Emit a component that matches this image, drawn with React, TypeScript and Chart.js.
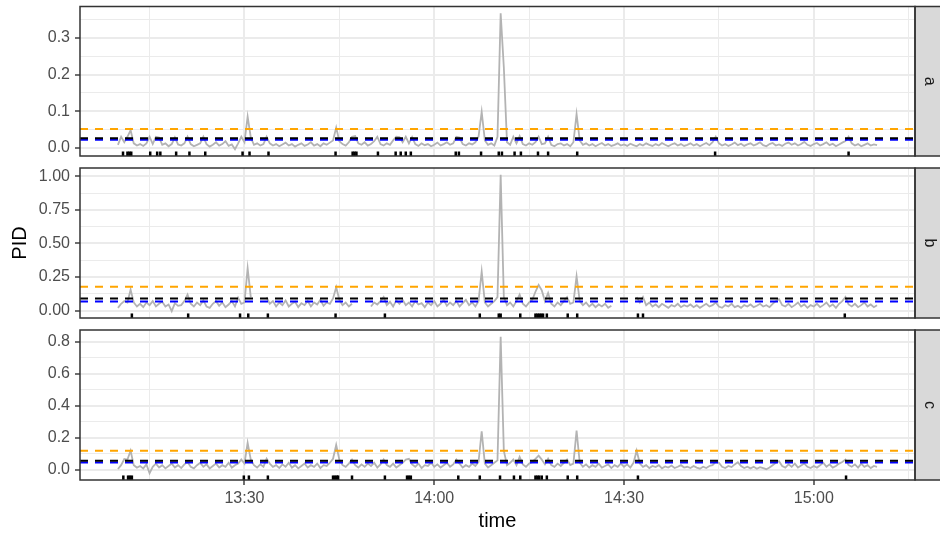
import React, { useEffect, useRef } from "react";
import { Chart, registerables } from "chart.js";

Chart.register(...registerables);

const FONT = '"Liberation Sans", Arial, Helvetica, sans-serif';

// time axis: minutes after 13:00
const SERIES_START = 10; // first sample 13:10
const SERIES_STEP = 0.5; // 30 s sampling
const X_MIN = 4;
const X_MAX = 136;
const X_TICKS = [15, 30, 45, 60, 75, 90, 105, 120, 135];
const X_LABELED = [30, 60, 90, 120];

// PID readings, one row = 10 minutes (20 samples)
const PID_A = [
  0.008, 0.030, 0.015, 0.030, 0.048, 0.012, 0.006, 0.010, 0.005, 0.012, 0.030, 0.010, 0.030, 0.028, 0.008, 0.012, 0.004, 0.010, 0.028, 0.009,
  0.006, 0.012, 0.030, 0.010, 0.004, 0.008, 0.012, 0.030, 0.010, 0.003, 0.008, 0.015, 0.006, 0.010, 0.018, 0.005, 0.009, -0.004, 0.012, 0.030,
  0.015, 0.085, 0.028, 0.008, 0.012, 0.006, 0.010, 0.030, 0.012, 0.006, 0.010, 0.004, 0.009, 0.014, 0.006, 0.010, 0.003, 0.008, 0.012, 0.005,
  0.009, 0.015, 0.006, 0.010, 0.004, 0.012, 0.008, 0.014, 0.020, 0.055, 0.018, 0.010, 0.006, 0.015, 0.030, 0.032, 0.012, 0.008, 0.015, 0.006,
  0.010, 0.018, 0.030, 0.010, 0.006, 0.012, 0.008, 0.020, 0.030, 0.029, 0.015, 0.030, 0.012, 0.029, 0.010, 0.005, 0.012, 0.007, 0.010, 0.004,
  0.008, 0.014, 0.006, 0.010, 0.015, 0.008, 0.012, 0.030, 0.028, 0.010, 0.006, 0.012, 0.009, 0.015, 0.030, 0.098, 0.020, 0.008, 0.012, 0.006,
  0.030, 0.3675, 0.220, 0.015, 0.008, 0.030, 0.012, 0.032, 0.010, 0.006, 0.012, 0.008, 0.015, 0.030, 0.010, 0.012, 0.030, 0.008, 0.004, 0.010,
  0.012, 0.006, 0.010, 0.004, 0.015, 0.092, 0.020, 0.008, 0.012, 0.006, 0.010, 0.004, 0.009, 0.013, 0.006, 0.010, 0.005, 0.008, 0.012, 0.006,
  0.009, 0.005, 0.011, 0.007, 0.004, 0.010, 0.006, 0.012, 0.008, 0.005, 0.010, 0.006, 0.013, 0.008, 0.004, 0.009, 0.012, 0.006, 0.010, 0.005,
  0.008, 0.012, 0.006, 0.010, 0.004, 0.009, 0.013, 0.007, 0.015, 0.030, 0.012, 0.006, 0.010, 0.005, 0.009, 0.014, 0.007, 0.011, 0.005, 0.009,
  0.012, 0.006, 0.010, 0.015, 0.007, 0.004, 0.010, 0.013, 0.006, 0.009, 0.005, 0.011, 0.014, 0.008, 0.012, 0.006, 0.010, 0.016, 0.008, 0.005,
  0.010, 0.013, 0.006, 0.010, 0.015, 0.007, 0.011, 0.004, 0.009, 0.014, 0.018, 0.030, 0.012, 0.006, 0.010, 0.004, 0.008, 0.012, 0.006, 0.009,
  0.007,
];

const PID_B = [
  0.020, 0.050, 0.070, 0.060, 0.155, 0.060, 0.030, 0.050, 0.025, 0.060, 0.040, 0.070, 0.030, 0.050, 0.065, 0.030, 0.045, -0.005, 0.055, 0.035,
  0.040, 0.070, 0.118, 0.050, 0.030, 0.060, 0.040, 0.075, 0.030, 0.020, 0.050, 0.070, 0.035, 0.060, 0.025, 0.045, 0.070, 0.030, 0.095, 0.050,
  0.060, 0.316, 0.100, null, null, null, null, 0.100, 0.050, 0.070, 0.030, 0.060, 0.040, 0.075, 0.030, 0.050, 0.065, 0.025, 0.055, 0.040,
  0.070, 0.030, 0.060, 0.045, 0.080, 0.035, 0.060, 0.050, 0.090, 0.173, 0.080, 0.040, 0.060, 0.030, 0.050, null, null, null, null, null,
  0.030, 0.060, 0.045, 0.070, 0.100, 0.040, 0.065, 0.030, 0.075, 0.050, 0.080, 0.040, 0.060, 0.030, 0.070, 0.045, 0.055, 0.025, 0.060, 0.040,
  0.070, 0.030, 0.050, 0.080, 0.035, 0.060, 0.040, 0.070, 0.030, 0.055, 0.080, 0.040, 0.060, 0.030, 0.070, 0.290, 0.060, 0.030, 0.050, 0.070,
  0.100, 1.012, 0.100, 0.040, 0.060, 0.030, 0.070, 0.118, 0.050, 0.030, 0.060, 0.080, 0.140, 0.190, 0.150, 0.070, 0.130, 0.050, 0.030, 0.060,
  0.040, 0.070, 0.100, 0.050, 0.060, 0.255, 0.070, 0.040, 0.060, 0.030, 0.050, 0.025, 0.045, 0.030, 0.050, 0.020, 0.035, null, null, null,
  null, null, null, null, 0.100, 0.060, 0.100, 0.040, 0.060, 0.030, 0.045, 0.025, 0.050, 0.035, 0.020, 0.040, 0.030, 0.050, 0.025, 0.040,
  0.030, 0.045, 0.025, 0.040, 0.020, 0.035, 0.050, 0.030, 0.040, 0.060, 0.030, 0.020, 0.040, 0.030, 0.050, 0.025, 0.035, 0.020, 0.040, 0.030,
  0.045, 0.025, 0.035, 0.050, 0.030, 0.040, 0.025, 0.050, 0.070, 0.085, 0.040, 0.030, 0.050, 0.025, 0.040, 0.060, 0.030, 0.045, 0.020, 0.040,
  0.030, 0.050, 0.025, 0.040, 0.060, 0.030, 0.045, 0.020, 0.050, 0.070, 0.100, 0.045, 0.030, 0.050, 0.025, 0.040, 0.060, 0.030, 0.045, 0.025,
  0.040,
];

const PID_C = [
  0.006, 0.030, 0.068, 0.065, 0.120, 0.030, 0.015, 0.025, 0.010, 0.035, -0.020, 0.020, 0.040, 0.015, 0.030, 0.010, 0.025, 0.040, 0.015, 0.030,
  0.012, 0.035, 0.050, 0.020, 0.010, 0.030, 0.045, 0.020, 0.035, 0.010, 0.025, 0.040, 0.015, 0.030, 0.020, 0.045, 0.015, 0.030, 0.040, 0.065,
  0.040, 0.170, 0.065, 0.030, 0.015, 0.035, 0.020, 0.070, 0.040, 0.020, 0.030, 0.012, 0.035, 0.020, 0.045, 0.015, 0.030, 0.010, 0.025, 0.040,
  0.015, 0.030, 0.020, 0.040, 0.012, 0.030, 0.025, 0.045, 0.070, 0.156, 0.065, 0.030, 0.020, 0.040, 0.065, 0.030, 0.015, 0.035, 0.020, 0.040,
  0.025, 0.045, 0.015, 0.035, 0.065, 0.030, 0.020, 0.040, 0.015, 0.030, 0.045, 0.065, 0.070, 0.035, 0.020, 0.040, 0.012, 0.030, 0.025, 0.045,
  0.020, 0.035, 0.015, 0.030, 0.045, 0.020, 0.035, 0.065, 0.040, 0.015, 0.030, 0.020, 0.040, 0.025, 0.050, 0.242, 0.040, 0.015, 0.030, 0.045,
  0.060, 0.8316, 0.120, 0.030, 0.045, 0.065, 0.030, 0.082, 0.035, 0.020, 0.040, 0.050, 0.070, 0.090, 0.065, 0.035, 0.070, 0.030, 0.020, 0.040,
  0.025, 0.045, 0.065, 0.030, 0.040, 0.246, 0.045, 0.020, 0.035, 0.015, 0.030, 0.020, 0.040, 0.015, 0.025, 0.035, 0.012, 0.030, 0.020, 0.040,
  0.020, 0.035, 0.015, 0.045, 0.120, 0.040, 0.020, 0.030, 0.012, 0.025, 0.018, 0.030, 0.010, 0.022, 0.015, 0.028, 0.012, 0.020, 0.030, 0.015,
  0.020, 0.012, 0.025, 0.015, 0.008, 0.020, 0.012, 0.025, 0.030, 0.050, 0.045, 0.020, 0.012, 0.025, 0.018, 0.035, 0.048, 0.025, 0.012, 0.020,
  0.010, 0.020, 0.008, 0.018, 0.012, 0.005, 0.015, 0.030, 0.045, 0.055, 0.025, 0.015, 0.035, 0.020, 0.040, 0.015, 0.028, 0.040, 0.020, 0.012,
  0.025, 0.015, 0.030, 0.045, 0.020, 0.035, 0.015, 0.025, 0.040, 0.050, 0.065, 0.030, 0.020, 0.035, 0.015, 0.040, 0.020, 0.030, 0.012, 0.025,
  0.020,
];

// rug marks (minutes after 13:00)
const RUG_A = [10.8, 11.5, 11.8, 12.1, 15.1, 16.2, 16.7, 19.2, 21.3, 23.8, 29.7, 30.8, 33.8, 44.4, 47.1, 47.4, 47.7, 51.1, 53.9, 54.7, 55.5, 56.3, 63.4, 63.9, 67.4, 70.2, 70.7, 72.7, 73.7, 76.4, 78.0, 82.6, 104.4, 125.5];
const RUG_B = [12.2, 21.1, 29.3, 30.6, 33.7, 44.4, 52.2, 67.2, 70.2, 70.5, 73.6, 76.0, 76.3, 76.6, 76.9, 77.2, 77.8, 81.1, 82.6, 92.2, 93.0, 124.9];
const RUG_C = [10.85, 11.6, 11.9, 12.2, 29.9, 30.7, 33.7, 44.0, 44.3, 44.6, 44.8, 47.0, 52.2, 55.7, 56.0, 56.3, 63.8, 67.2, 70.4, 72.6, 73.6, 76.0, 76.3, 76.6, 77.0, 77.8, 81.1, 82.6, 92.2, 125.1];

// reference levels: orange, black, blue
const HLINE_COLORS = ["#FFA500", "#000000", "#0000FF"];
const HLINE_A = [0.051, 0.026, 0.022];
const HLINE_B = [0.177, 0.090, 0.067];
const HLINE_C = [0.120, 0.058, 0.046];

const FACETS = ["a", "b", "c"];

function fmtTime(t: number) {
  const h = 13 + Math.floor(t / 60);
  const m = t % 60;
  return `${h}:${String(m).padStart(2, "0")}`;
}

const panelDecor = {
  id: "panelDecor",
  afterDraw(chart: any, _args: any, opts: any) {
    const { ctx, chartArea: a } = chart;
    ctx.save();
    const h = a.bottom - a.top;
    ctx.fillStyle = "#D9D9D9";
    ctx.fillRect(a.right, a.top, 30, h);
    ctx.strokeStyle = "#333333";
    ctx.lineWidth = 1.5;
    ctx.strokeRect(a.right, a.top, 30, h);
    ctx.strokeRect(a.left, a.top, a.right - a.left, h);
    ctx.translate(a.right + 14, (a.top + a.bottom) / 2);
    ctx.rotate(Math.PI / 2);
    ctx.fillStyle = "#1A1A1A";
    ctx.font = `16px ${FONT}`;
    ctx.textAlign = "center";
    ctx.textBaseline = "middle";
    ctx.fillText(opts.label, 0, 0);
    ctx.restore();
  },
};

type PanelProps = {
  label: string;
  values: (number | null)[];
  rug: number[];
  hlines: number[];
  yHalf: number;
  dec: number;
  top: number;
  height: number;
  padTop: number;
  padBottom: number;
  xAxisHeight: number;
  showX: boolean;
  showYTitle: boolean;
};

const PANELS: PanelProps[] = [
  { label: FACETS[0], values: PID_A, rug: RUG_A, hlines: HLINE_A, yHalf: 0.05, dec: 1, top: 0, height: 165, padTop: 6, padBottom: 9, xAxisHeight: 0, showX: false, showYTitle: false },
  { label: FACETS[1], values: PID_B, rug: RUG_B, hlines: HLINE_B, yHalf: 0.125, dec: 2, top: 160, height: 165, padTop: 8, padBottom: 7, xAxisHeight: 0, showX: false, showYTitle: true },
  { label: FACETS[2], values: PID_C, rug: RUG_C, hlines: HLINE_C, yHalf: 0.1, dec: 1, top: 322, height: 214, padTop: 8, padBottom: 0, xAxisHeight: 56, showX: true, showYTitle: false },
];

function makeConfig(p: PanelProps): any {
  const times = p.values.map((_, i) => SERIES_START + i * SERIES_STEP);
  const finite = p.values.filter((v) => v !== null) as number[];
  const lo = Math.min(...finite);
  const hi = Math.max(...finite);
  const d = hi - lo;
  const yMin = lo - 0.05 * d;
  const yMax = hi + 0.05 * d;
  const yTicks: number[] = [];
  for (let k = Math.ceil(yMin / p.yHalf - 1e-9); k * p.yHalf <= yMax + 1e-9; k++) {
    yTicks.push(+(k * p.yHalf).toFixed(6));
  }
  const isMajorY = (v: number) => Math.abs(Math.round(v / p.yHalf)) % 2 === 0;
  const isMajorX = (v: number) => X_LABELED.includes(v);
  const rugY = yMin + 0.015 * (yMax - yMin);
  const hlOrder = [4, 2, 3];

  return {
    type: "line",
    data: {
      datasets: [
        {
          label: "PID",
          data: times.map((t, i) => ({ x: t, y: p.values[i] })),
          borderColor: "#B3B3B3",
          borderWidth: 1.8,
          pointRadius: 0,
          spanGaps: false,
          tension: 0,
          order: 5,
        },
        ...p.hlines.map((v, j) => ({
          label: "level" + j,
          data: [
            { x: X_MIN, y: v },
            { x: X_MAX, y: v },
          ],
          borderColor: HLINE_COLORS[j],
          borderWidth: 2,
          borderDash: [8, 7],
          pointRadius: 0,
          order: hlOrder[j],
        })),
        {
          label: "rug",
          data: p.rug.map((t) => ({ x: t, y: rugY })),
          showLine: false,
          pointStyle: "line",
          pointRotation: 90,
          pointRadius: 2.3,
          pointBorderWidth: 2.5,
          pointBorderColor: "#000000",
          pointBackgroundColor: "#000000",
          order: 1,
        },
      ],
    },
    options: {
      animation: false,
      responsive: false,
      events: [],
      layout: { padding: { left: 0, right: 25, top: p.padTop, bottom: p.padBottom } },
      plugins: {
        legend: { display: false },
        tooltip: { enabled: false },
        panelDecor: { label: p.label },
      },
      scales: {
        x: {
          type: "linear",
          min: X_MIN,
          max: X_MAX,
          bounds: "data",
          afterBuildTicks: (s: any) => {
            s.ticks = X_TICKS.map((v) => ({ value: v }));
          },
          afterFit: (s: any) => {
            s.height = p.xAxisHeight;
            s.paddingLeft = 0;
            s.paddingRight = 0;
            s.paddingTop = 0;
            s.paddingBottom = 0;
          },
          border: { display: false },
          grid: {
            color: "#EBEBEB",
            lineWidth: (c: any) => (c.tick && isMajorX(c.tick.value) ? 2 : 1),
            drawTicks: p.showX,
            tickLength: 5,
            tickWidth: 1.4,
            tickColor: (c: any) => (c.tick && isMajorX(c.tick.value) ? "#333333" : "rgba(0,0,0,0)"),
          },
          ticks: {
            display: p.showX,
            autoSkip: false,
            maxRotation: 0,
            padding: 4,
            color: "#4D4D4D",
            font: { size: 16, family: FONT },
            callback: (v: number) => (isMajorX(v) ? fmtTime(v) : ""),
          },
          title: {
            display: p.showX,
            text: "time",
            color: "#000000",
            font: { size: 20, family: FONT },
            padding: { top: 0, bottom: 3 },
          },
        },
        y: {
          type: "linear",
          min: yMin,
          max: yMax,
          bounds: "data",
          afterBuildTicks: (s: any) => {
            s.ticks = yTicks.map((v) => ({ value: v }));
          },
          afterFit: (s: any) => {
            s.width = 80;
            s.paddingLeft = 0;
            s.paddingRight = 0;
            s.paddingTop = 0;
            s.paddingBottom = 0;
          },
          border: { display: false },
          grid: {
            color: "#EBEBEB",
            lineWidth: (c: any) => (c.tick && isMajorY(c.tick.value) ? 2 : 1),
            tickLength: 5,
            tickWidth: 1.4,
            tickColor: (c: any) => (c.tick && isMajorY(c.tick.value) ? "#333333" : "rgba(0,0,0,0)"),
          },
          ticks: {
            autoSkip: false,
            padding: 5,
            color: "#4D4D4D",
            font: { size: 16, family: FONT },
            callback: (v: number) => (isMajorY(v) ? v.toFixed(p.dec) : ""),
          },
          title: {
            display: p.showYTitle,
            text: "PID",
            color: "#000000",
            font: { size: 20, family: FONT },
            padding: { top: 8, bottom: 0 },
          },
        },
      },
    },
    plugins: [panelDecor],
  };
}

function Panel(p: PanelProps) {
  const ref = useRef<HTMLCanvasElement>(null);
  useEffect(() => {
    const chart = new Chart(ref.current as HTMLCanvasElement, makeConfig(p));
    return () => chart.destroy();
  }, []);
  return (
    <canvas
      ref={ref}
      width={940}
      height={p.height}
      style={{ position: "absolute", left: 0, top: p.top, width: 940, height: p.height, display: "block" }}
    />
  );
}

export default function App() {
  return (
    <div style={{ position: "absolute", left: 0, top: 0, width: 940, height: 536, background: "#FFFFFF", overflow: "hidden" }}>
      {PANELS.map((p) => (
        <Panel key={p.label} {...p} />
      ))}
    </div>
  );
}
